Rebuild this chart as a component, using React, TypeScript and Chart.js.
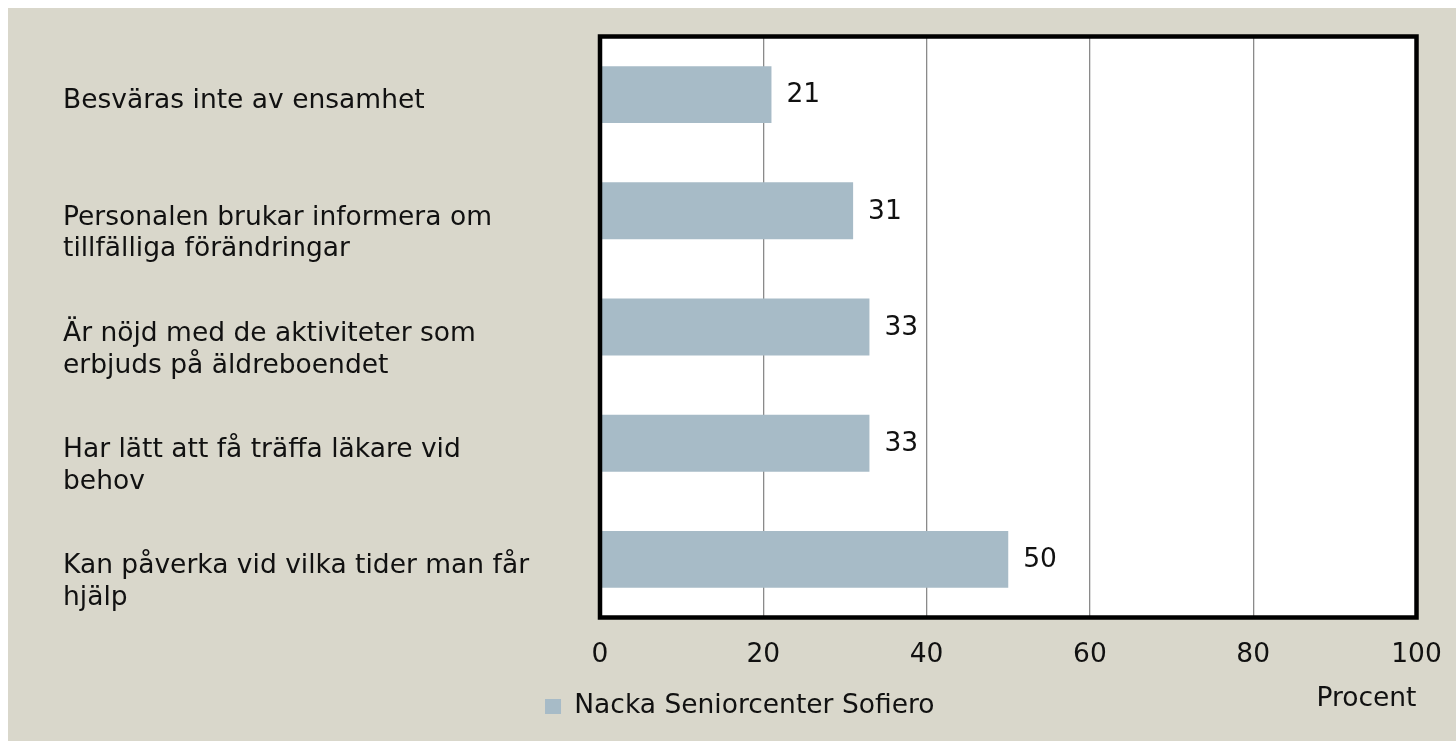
import React, { useEffect, useRef } from "react";
import { Chart, registerables } from "chart.js";

Chart.register(...registerables);

const categories: string[][] = [
  ["Besväras inte av ensamhet"],
  ["Personalen brukar informera om", "tillfälliga förändringar"],
  ["Är nöjd med de aktiviteter som", "erbjuds på äldreboendet"],
  ["Har lätt att få träffa läkare vid", "behov"],
  ["Kan påverka vid vilka tider man får", "hjälp"],
];
const values: number[] = [21, 31, 33, 33, 50];
const seriesName = "Nacka Seniorcenter Sofiero";
const xTicks: number[] = [0, 20, 40, 60, 80, 100];
const xTitle = "Procent";

const FONT = "'DejaVu Sans', sans-serif";
const FS = 26.5;
const TEXT = "#111111";
const BAR = "#A7BBC7";
const BG = "#D9D7CB";

const areaPlugin = {
  id: "areaPlugin",
  beforeDraw(chart: any) {
    const { ctx, chartArea: a } = chart;
    ctx.save();
    ctx.fillStyle = "#ffffff";
    ctx.fillRect(a.left, a.top, a.right - a.left, a.bottom - a.top);
    ctx.restore();
  },
  afterDraw(chart: any) {
    const { ctx, chartArea: a } = chart;
    ctx.save();
    ctx.strokeStyle = "#000000";
    ctx.lineWidth = 4.5;
    ctx.strokeRect(a.left, a.top, a.right - a.left, a.bottom - a.top);
    ctx.restore();
  },
};

const valueLabels = {
  id: "valueLabels",
  afterDatasetsDraw(chart: any) {
    const { ctx } = chart;
    const meta = chart.getDatasetMeta(0);
    ctx.save();
    ctx.font = `${FS}px ${FONT}`;
    ctx.fillStyle = TEXT;
    ctx.textAlign = "left";
    ctx.textBaseline = "middle";
    meta.data.forEach((bar: any, i: number) => {
      ctx.fillText(String(values[i]), bar.x + 15, bar.y + 1);
    });
    ctx.restore();
  },
};

const zeroPad = (s: any) => {
  s.paddingTop = 0;
  s.paddingBottom = 0;
  s.paddingLeft = 0;
  s.paddingRight = 0;
};

export default function App() {
  const ref = useRef<HTMLCanvasElement | null>(null);

  useEffect(() => {
    if (!ref.current) return;
    const chart = new Chart(ref.current, {
      type: "bar",
      data: {
        labels: categories,
        datasets: [
          {
            label: seriesName,
            data: values,
            backgroundColor: BAR,
            borderWidth: 0,
            barPercentage: 0.49,
            categoryPercentage: 1,
          },
        ],
      },
      options: {
        indexAxis: "y",
        animation: false,
        responsive: false,
        layout: { padding: { left: 55, top: 28.5, right: 39.5, bottom: 11.25 } },
        plugins: {
          tooltip: { enabled: false },
          legend: {
            position: "bottom",
            labels: {
              boxWidth: 16,
              boxHeight: 15,
              padding: 10,
              color: TEXT,
              font: { family: FONT, size: FS },
            },
          },
        },
        scales: {
          x: {
            min: 0,
            max: 100,
            afterBuildTicks: (s: any) => {
              s.ticks = xTicks.map((v) => ({ value: v }));
            },
            afterFit: (s: any) => {
              zeroPad(s);
              s.height = 65.75;
            },
            grid: {
              color: (c: any) =>
                c.tick && (c.tick.value === 0 || c.tick.value === 100)
                  ? "rgba(0,0,0,0)"
                  : "#8a8a8a",
              lineWidth: 1.3,
              drawTicks: false,
            },
            border: { display: false },
            ticks: {
              padding: 22,
              color: TEXT,
              font: { family: FONT, size: FS },
            },
            title: {
              display: true,
              text: xTitle,
              align: "end",
              color: TEXT,
              font: { family: FONT, size: FS },
              padding: { top: 0, bottom: -31.5 },
            },
          },
          y: {
            grid: { display: false, drawTicks: false },
            border: { display: false },
            afterFit: (s: any) => {
              zeroPad(s);
              s.width = 537;
            },
            ticks: {
              autoSkip: false,
              crossAlign: "far",
              labelOffset: 7,
              color: TEXT,
              font: { family: FONT, size: FS, lineHeight: 1.2 },
              callback: (_v: any, i: number) => {
                const l = categories[i];
                return l.length > 1 ? ["", ...l] : l;
              },
            },
          },
        },
      },
      plugins: [areaPlugin, valueLabels],
    } as any);
    return () => chart.destroy();
  }, []);

  return (
    <div
      style={{
        position: "fixed",
        left: 8,
        top: 8,
        width: 1448,
        height: 733,
        background: BG,
      }}
    >
      <canvas ref={ref} width={1448} height={733} style={{ display: "block" }} />
    </div>
  );
}
